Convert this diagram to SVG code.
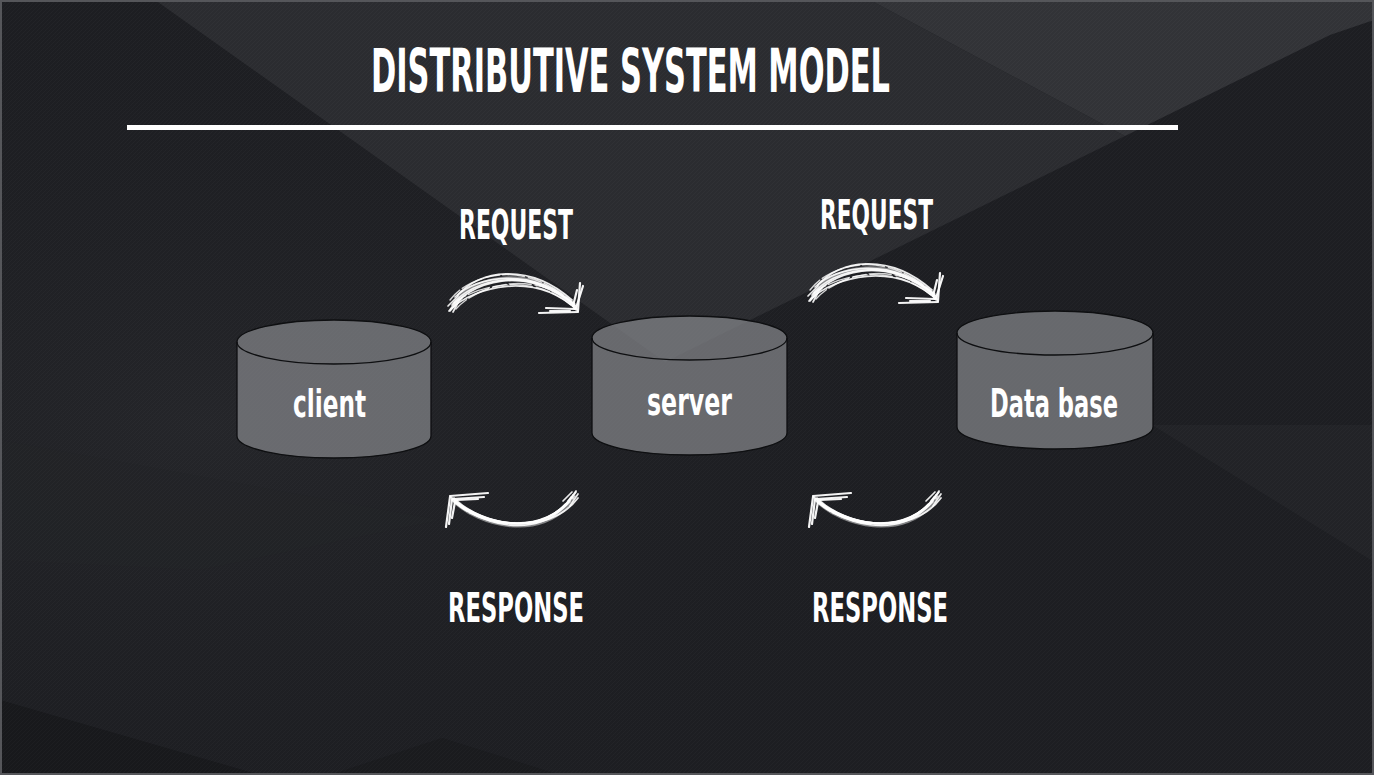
<svg xmlns="http://www.w3.org/2000/svg" width="1374" height="775" viewBox="0 0 1374 775">
  <defs>
    <style>
      .t { font-family: "Liberation Sans Narrow", "DejaVu Sans Condensed", "Liberation Sans", sans-serif; font-weight: bold; fill: #ffffff; }
      .cyl { fill: #88898d; fill-opacity: 0.7; stroke: #0e0f11; stroke-width: 1.3; }
      .rim { fill: none; stroke: #0e0f11; stroke-width: 1.3; }
      .sk { fill: none; stroke: #ffffff; stroke-linecap: round; stroke-linejoin: round; }
      .sk1 { stroke-width: 1.7; stroke-opacity: 0.9; }
      .sk2 { stroke-width: 5; stroke-opacity: 0.45; }
      .sk3 { stroke-width: 1.4; stroke-opacity: 0.8; stroke-dasharray: 14 3 22 4; }
      .hd { stroke-width: 2.2; stroke-opacity: 0.95; }
    </style>
    <radialGradient id="glowL" cx="0.15" cy="0.55" r="0.6">
      <stop offset="0" stop-color="#2a2b2f" stop-opacity="0.6"/>
      <stop offset="1" stop-color="#1d1e22" stop-opacity="0"/>
    </radialGradient>
    <pattern id="grain" width="4" height="4" patternUnits="userSpaceOnUse">
      <path d="M0,4 L4,0" stroke="#ffffff" stroke-opacity="0.025" stroke-width="1"/>
    </pattern>
  </defs>

  <!-- background -->
  <g id="background">
    <rect x="0" y="0" width="1374" height="775" fill="#1d1e22"/>
    <rect x="0" y="0" width="1374" height="775" fill="url(#glowL)"/>
    <polygon points="155,0 870,0 1125,136 665,362" fill="#2b2c30"/>
    <polygon points="870,0 1374,0 1374,20 1330,35 1125,136" fill="#323337"/>
    <polygon points="1152,425 1374,425 1374,562" fill="#222327"/>
    <polygon points="0,560 200,570 440,520 0,440" fill="#222327" fill-opacity="0.7"/>
    <polygon points="0,700 0,775 260,775" fill="#18191c"/>
    <polygon points="330,775 442,738 560,775" fill="#1a1b1e"/>
    <rect x="0" y="0" width="1374" height="775" fill="url(#grain)"/>
    <rect x="1" y="1" width="1372" height="773" fill="none" stroke="#55565a" stroke-width="2"/>
  </g>

  <!-- title -->
  <g id="title">
    <text class="t" x="371" y="92" font-size="61" textLength="519" lengthAdjust="spacingAndGlyphs">DISTRIBUTIVE SYSTEM MODEL</text>
    <rect x="127" y="125" width="1051" height="5" fill="#ffffff"/>
  </g>

  <!-- nodes -->
  <g id="node-client">
    <path class="cyl" d="M237,342 A97,22 0 0 1 431,342 L431,436 A97,22 0 0 1 237,436 Z"/>
    <path class="rim" d="M237,342 A97,22 0 0 0 431,342"/>
    <text class="t" x="293" y="417" font-size="37" textLength="73" lengthAdjust="spacingAndGlyphs">client</text>
  </g>
  <g id="node-server">
    <path class="cyl" d="M592,338 A97.5,22 0 0 1 787,338 L787,433 A97.5,22 0 0 1 592,433 Z"/>
    <path class="rim" d="M592,338 A97.5,22 0 0 0 787,338"/>
    <text class="t" x="647" y="415" font-size="37" textLength="85" lengthAdjust="spacingAndGlyphs">server</text>
  </g>
  <g id="node-database">
    <path class="cyl" d="M957,333 A98,22 0 0 1 1153,333 L1153,427 A98,22 0 0 1 957,427 Z"/>
    <path class="rim" d="M957,333 A98,22 0 0 0 1153,333"/>
    <text class="t" x="990" y="417" font-size="39" textLength="128" lengthAdjust="spacingAndGlyphs">Data base</text>
  </g>

  <!-- connectors (hand-drawn arrows) -->
  <g id="connectors">
    <g id="req-arrow" class="sk">
      <path class="sk2" d="M455,303 C474,277 530,264 574,305"/>
      <path class="sk1" d="M449,311 C468,282 528,261 577,309"/>
      <path class="sk1" d="M452,305 C472,279 530,264 575,306"/>
      <path class="sk1" d="M455,297 C476,276 532,266 574,304"/>
      <path class="sk1" d="M458,295 C478,271 528,261 572,300"/>
      <path class="sk1" d="M451,309 C474,287 535,270 578,311"/>
      <path class="sk3" d="M454,303 C480,283 540,272 576,310"/>
      <path class="sk3" d="M450,300 C470,274 524,258 573,303"/>
      <path class="sk3" d="M456,309 C478,284 536,268 577,307"/>
      <path class="sk1" d="M448,306 L458,296 M450,311 L462,298 M453,312 L459,301"/>
      <path class="hd" d="M578,311 L580,283"/>
      <path class="hd" d="M576,308 L583,286"/>
      <path class="hd" d="M573,306 L577,290"/>
      <path class="hd" d="M578,312 L539,313"/>
      <path class="hd" d="M575,309 L546,308"/>
      <path class="hd" d="M570,311 L550,311"/>
    </g>
    <use id="req-arrow-2" href="#req-arrow" transform="translate(360,-10)"/>

    <g id="resp-arrow" class="sk">
      <path class="sk2" d="M455,501 C478,524 542,542 572,499"/>
      <path class="sk1" d="M451,497 C474,523 538,544 570,500"/>
      <path class="sk1" d="M453,499 C476,521 542,542 573,495"/>
      <path class="sk1" d="M455,501 C480,524 545,540 576,492"/>
      <path class="sk1" d="M452,500 C478,526 548,538 578,498"/>
      <path class="sk1" d="M454,498 C472,518 532,540 566,504"/>
      <path class="sk3" d="M456,503 C482,528 545,536 575,496"/>
      <path class="sk3" d="M452,498 C470,516 535,546 571,497"/>
      <path class="sk1" d="M566,505 L576,491 M570,506 L578,494 M563,501 L572,492"/>
      <path class="hd" d="M450,497 L446,527"/>
      <path class="hd" d="M452,499 L449,524"/>
      <path class="hd" d="M455,502 L452,518"/>
      <path class="hd" d="M450,496 L488,493"/>
      <path class="hd" d="M453,499 L484,497"/>
      <path class="hd" d="M457,500 L478,499"/>
    </g>
    <use id="resp-arrow-2" href="#resp-arrow" transform="translate(363,0)"/>
  </g>

  <!-- labels -->
  <g id="labels">
    <text class="t" x="459" y="239" font-size="40" textLength="114" lengthAdjust="spacingAndGlyphs">REQUEST</text>
    <text class="t" x="820" y="229" font-size="40" textLength="113" lengthAdjust="spacingAndGlyphs">REQUEST</text>
    <text class="t" x="448" y="622" font-size="40" textLength="136" lengthAdjust="spacingAndGlyphs">RESPONSE</text>
    <text class="t" x="812" y="622" font-size="40" textLength="136" lengthAdjust="spacingAndGlyphs">RESPONSE</text>
  </g>
</svg>
